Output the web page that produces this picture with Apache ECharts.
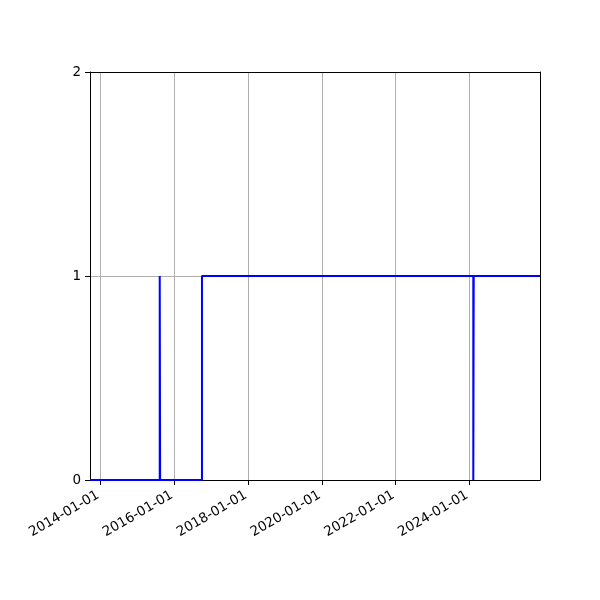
<!DOCTYPE html>
<html>
<head>
<meta charset="utf-8">
<script src="https://cdn.jsdelivr.net/npm/echarts@6/dist/echarts.min.js"></script>
<style>html,body{margin:0;padding:0;background:#fff}#c{width:600px;height:600px}</style>
</head>
<body>
<div id="c"></div>
<script>
// Data
var dates = ['2013-09-20', '2015-08-11', '2015-08-15', '2016-10-02', '2024-02-08', '2024-02-12', '2025-11-29'];
var values = [0, 1, 0, 1, 0, 1, 1];
var xTickLabels = ['2014-01-01', '2016-01-01', '2018-01-01', '2020-01-01', '2022-01-01', '2024-01-01'];
var yTicks = [0, 1, 2];
var xMin = '2013-09-20';
var xMax = '2025-11-29';

var chart = echarts.init(document.getElementById('c'), null, {renderer: 'canvas'});
var font = 'DejaVu Sans';
chart.setOption({
  useUTC: true,
  animation: false,
  backgroundColor: '#fff',
  grid: {left: 90, right: 60, top: 72, bottom: 120, containLabel: false},
  xAxis: [{
    type: 'time',
    min: xMin, max: xMax,
    axisLine: {show: true, lineStyle: {color: '#000', width: 1}},
    axisTick: {show: true, length: 5, lineStyle: {color: '#000', width: 1}, customValues: xTickLabels},
    axisLabel: {show: true, customValues: xTickLabels, rotate: 30, margin: 13, padding: [0, 2.5, 0, 0],
      color: '#000', fontFamily: font, fontSize: 13.5,
      formatter: '{yyyy}-{MM}-{dd}', hideOverlap: false},
    splitLine: {show: true, showMinLine: false, showMaxLine: false, lineStyle: {color: '#b0b0b0', width: 1}}
  }, {
    type: 'value', position: 'top', min: 0, max: 1,
    axisLine: {show: true, onZero: false, lineStyle: {color: '#000', width: 1}},
    axisTick: {show: false}, axisLabel: {show: false}, splitLine: {show: false}
  }],
  yAxis: [{
    type: 'value',
    min: 0, max: 2, interval: 1,
    axisLine: {show: true, onZero: false, lineStyle: {color: '#000', width: 1}},
    axisTick: {show: true, length: 5, lineStyle: {color: '#000', width: 1}, customValues: yTicks},
    axisLabel: {show: true, customValues: yTicks, margin: 9, color: '#000', fontFamily: font, fontSize: 13.5},
    splitLine: {show: true, showMinLine: false, showMaxLine: false, lineStyle: {color: '#b0b0b0', width: 1}}
  }, {
    type: 'value', position: 'right', min: 0, max: 1,
    axisLine: {show: true, onZero: false, lineStyle: {color: '#000', width: 1}},
    axisTick: {show: false}, axisLabel: {show: false}, splitLine: {show: false}
  }],
  series: [{
    type: 'line',
    step: 'end',
    xAxisIndex: 0, yAxisIndex: 0,
    data: dates.map(function (d, i) { return [d, values[i]]; }),
    showSymbol: false,
    symbol: 'none',
    clip: true,
    lineStyle: {color: '#0000ff', width: 2},
    z: 3
  }]
});
</script>
</body>
</html>
